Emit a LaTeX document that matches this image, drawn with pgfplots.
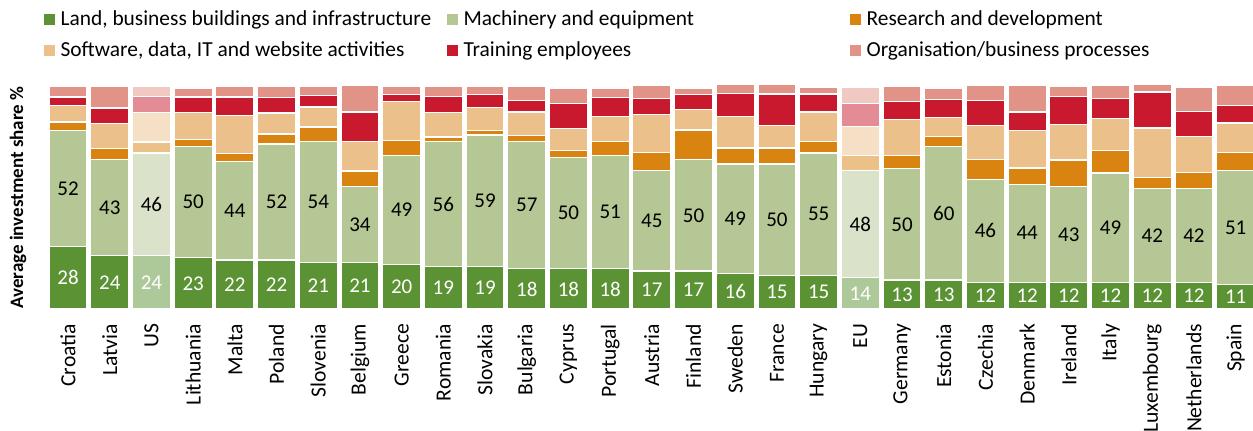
\documentclass[border=0pt]{standalone}
\usepackage{fontspec}
\setmainfont{Carlito}
\usepackage{pgfplots}
\pgfplotsset{compat=1.18}
\usepackage{pgfplotstable}

\definecolor{cland}{HTML}{5B9234}
\definecolor{cmach}{HTML}{B5C794}
\definecolor{crd}{HTML}{D98310}
\definecolor{csoft}{HTML}{ECC08B}
\definecolor{ctrain}{HTML}{C8192E}
\definecolor{corg}{HTML}{E29387}

\pgfplotstableread{
x name land mach rd soft train org hl
0 Croatia 28 52 3.9 7.3 3.9 4.8 0
1 Latvia 24 43 4.9 11.2 7.0 9.9 0
2 US 24 46 4.9 13.3 7.0 4.8 1
3 Lithuania 23 50 3.1 12.1 6.9 4.0 0
4 Malta 22 44 3.7 17.2 8.2 4.8 0
5 Poland 22 52 4.5 9.4 7.0 4.8 0
6 Slovenia 21 54 6.6 9.0 5.1 4.0 0
7 Belgium 21 34 6.9 13.2 13.2 11.8 0
8 Greece 20 49 6.7 17.3 3.3 3.4 0
9 Romania 19 56 2.1 11.1 7.0 4.8 0
10 Slovakia 19 59 2.1 10.2 6.0 3.7 0
11 Bulgaria 18 57 2.8 10.5 5.1 6.6 0
12 Cyprus 18 50 3.1 9.9 11.1 7.0 0
13 Portugal 18 51 6.0 11.2 8.8 4.0 0
14 Austria 17 45 8.1 17.0 7.2 5.8 0
15 Finland 17 50 13.3 9.0 7.0 2.8 0
16 Sweden 16 49 7.2 14.1 10.2 4.3 0
17 France 15 50 7.2 10.0 14.2 4.3 0
18 Hungary 15 55 5.1 13.2 8.1 2.8 0
19 EU 14 48 7.0 13.0 10.3 6.9 1
20 Germany 13 50 5.8 16.1 8.2 6.9 0
21 Estonia 13 60 4.2 8.8 8.1 4.9 0
22 Czechia 12 46 9.0 15.2 11.2 6.7 0
23 Denmark 12 44 7.2 17.0 8.1 11.8 0
24 Ireland 12 43 11.8 16.1 12.3 4.8 0
25 Italy 12 49 10.2 14.1 9.0 5.8 0
26 Luxembourg 12 42 4.9 22.3 16.1 3.4 0
27 Netherlands 12 42 7.2 16.3 10.9 10.9 0
28 Spain 11 51 8.2 13.2 7.9 9.0 0
}\data

\pgfplotsset{
  common/.style={
    scale only axis, width=604.65pt, height=111.5pt,
    xmin=-0.5, xmax=28.5, ymin=0, ymax=100,
    at={(0pt,0pt)}, anchor=south west, clip=false,
  },
}

\begin{document}
\begin{tikzpicture}
\path[use as bounding box] (-23.6pt,-60.5pt) rectangle (602.9pt,154.5pt);
\begin{axis}[
  common,
  ybar stacked, bar width=19pt,
  every axis plot/.append style={draw=white, line width=0.6pt},
  axis line style={draw=none},
  major tick length=0pt,
  ytick=\empty,
  xtick={0,...,28},
  xticklabels from table={\data}{name},
  xticklabel style={rotate=90, anchor=east, font=\fontsize{10.8}{13}\selectfont},
  xticklabel shift=4pt,
  ylabel={Average investment share \%},
  ylabel style={at={(axis description cs:-0.024,0.5)}, anchor=center, font=\bfseries\fontsize{9.5}{11}\selectfont},
  legend columns=3,
  legend cell align=left,
  legend image code/.code={\fill[#1,draw=none] (0pt,-2.75pt) rectangle (5.5pt,2.75pt);},
  legend style={draw=none, fill=none, inner sep=0pt, row sep=5pt,
    at={(axis description cs:-0.0033,1)}, anchor=south west, yshift=12.25pt,
    font=\fontsize{10.7}{12}\selectfont,
    nodes={inner sep=0pt, text height=8pt, text depth=2.5pt},
    /tikz/every odd column/.append style={column sep=3pt}},
]
\addplot[fill=cland] table[x=x, y expr=\thisrow{land}*(1-\thisrow{hl})] {\data};
\addlegendentry{\makebox[193pt][l]{Land, business buildings and infrastructure}}
\addplot[fill=cmach] table[x=x, y expr=\thisrow{mach}*(1-\thisrow{hl})] {\data};
\addlegendentry{\makebox[193pt][l]{Machinery and equipment}}
\addplot[fill=crd] table[x=x, y expr=\thisrow{rd}*(1-\thisrow{hl})] {\data};
\addlegendentry{\makebox[193pt][l]{Research and development}}
\addplot[fill=csoft] table[x=x, y expr=\thisrow{soft}*(1-\thisrow{hl})] {\data};
\addlegendentry{\makebox[193pt][l]{Software, data, IT and website activities}}
\addplot[fill=ctrain] table[x=x, y expr=\thisrow{train}*(1-\thisrow{hl})] {\data};
\addlegendentry{\makebox[193pt][l]{Training employees}}
\addplot[fill=corg] table[x=x, y expr=\thisrow{org}*(1-\thisrow{hl})] {\data};
\addlegendentry{\makebox[193pt][l]{Organisation/business processes}}
\addplot[fill=cland!50, forget plot] table[x=x, y expr=\thisrow{land}*\thisrow{hl}] {\data};
\addplot[fill=cmach!50, forget plot] table[x=x, y expr=\thisrow{mach}*\thisrow{hl}] {\data};
\addplot[fill=crd!50, forget plot] table[x=x, y expr=\thisrow{rd}*\thisrow{hl}] {\data};
\addplot[fill=csoft!50, forget plot] table[x=x, y expr=\thisrow{soft}*\thisrow{hl}] {\data};
\addplot[fill=ctrain!50, forget plot] table[x=x, y expr=\thisrow{train}*\thisrow{hl}] {\data};
\addplot[fill=corg!50, forget plot] table[x=x, y expr=\thisrow{org}*\thisrow{hl}] {\data};
\end{axis}
\begin{axis}[common, hide axis]
\addplot[only marks, mark=*, mark size=0pt, mark options={draw=none, fill=none},
  nodes near coords, point meta=explicit symbolic,
  every node near coord/.append style={anchor=center, text=white, font=\fontsize{10.5}{12}\selectfont}]
  table[x=x, y expr=\thisrow{land}/2, meta=land] {\data};
\addplot[only marks, mark=*, mark size=0pt, mark options={draw=none, fill=none},
  nodes near coords, point meta=explicit symbolic,
  every node near coord/.append style={anchor=center, text=black, font=\fontsize{10.5}{12}\selectfont}]
  table[x=x, y expr=\thisrow{land}+\thisrow{mach}/2, meta=mach] {\data};
\end{axis}
\end{tikzpicture}
\end{document}
